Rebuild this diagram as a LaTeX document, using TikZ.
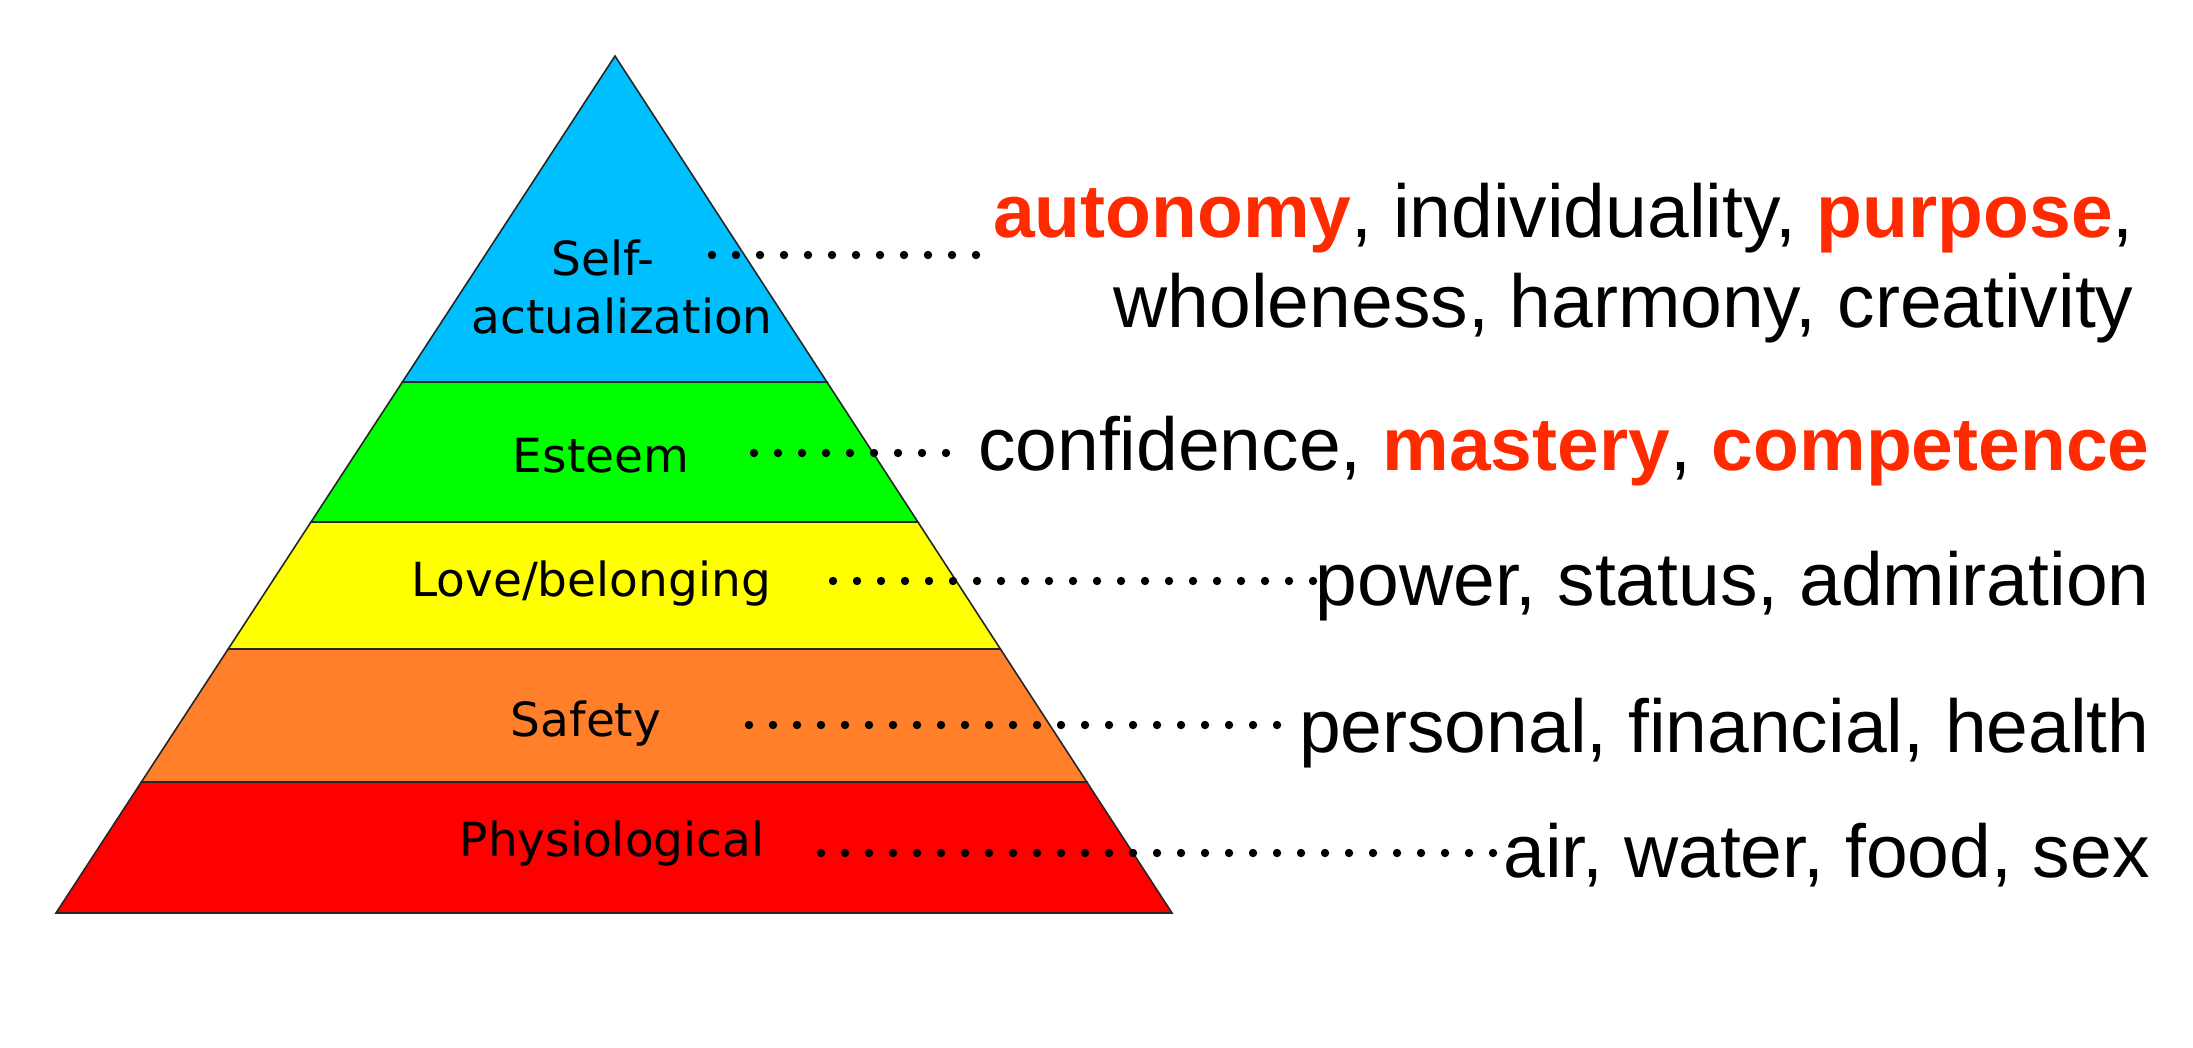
\documentclass[tikz,border=0pt]{standalone}
\usepackage{fontspec}
\setmainfont{Liberation Sans}
\newfontfamily\levelfont{DejaVu Sans}
\definecolor{selfblue}{RGB}{0,191,255}
\definecolor{esteemgreen}{RGB}{0,255,0}
\definecolor{loveyellow}{RGB}{255,255,0}
\definecolor{safeorange}{RGB}{255,127,42}
\definecolor{physred}{RGB}{255,0,0}
\definecolor{keyred}{RGB}{255,42,0}
\newcommand{\keyword}[1]{\textcolor{keyred}{\textbf{#1}}}
\begin{document}
\begin{tikzpicture}[
    x=0.5pt, y=-0.5pt,
    band/.style={draw=black!85, line width=0.8pt, fill=#1},
    level/.style={font=\levelfont\fontsize{23.5}{29}\selectfont, inner sep=0pt, anchor=base, align=center},
    needs/.style={font=\fontsize{37.5}{45}\selectfont, inner sep=0pt, anchor=base east, align=right},
    leader/.style={line width=4.2pt, line cap=round, dash pattern=on 0pt off 12pt}
]
    \useasboundingbox (0,0) rectangle (2193,1048);

    % pyramid bands
    \draw[band=selfblue] (615,56) -- (826.9,382) -- (402.4,382) -- cycle;
    \draw[band=esteemgreen] (402.4,382) -- (826.9,382) -- (917.9,522) -- (311,522) -- cycle;
    \draw[band=loveyellow] (311,522) -- (917.9,522) -- (1000.4,649) -- (228.2,649) -- cycle;
    \draw[band=safeorange] (228.2,649) -- (1000.4,649) -- (1086.8,782) -- (141.4,782) -- cycle;
    \draw[band=physred] (141.4,782) -- (1086.8,782) -- (1172,913) -- (56,913) -- cycle;

    \node[level] (self) at (622,333) {Self-\hspace*{.8em}\\actualization};
    \node[level] (esteem) at (601,472) {Esteem};
    \node[level] (love) at (591,596) {Love/belonging};
    \node[level] (safety) at (586,736) {Safety};
    \node[level] (phys) at (612,856) {Physiological};

    \node[needs] (selfneeds) at (2134,327) {\keyword{autonomy}, individuality, \keyword{purpose},\\wholeness, harmony, creativity};
    \node[needs] (esteemneeds) at (2150,470) {confidence, \keyword{mastery}, \keyword{competence}};
    \node[needs] (loveneeds) at (2150,605) {power, status, admiration};
    \node[needs] (safetyneeds) at (2150,752) {personal, financial, health};
    \node[needs] (physneeds) at (2150,877) {air, water, food, sex};

    % dotted leaders
    \coordinate (selfdots) at (712,255);
    \coordinate (esteemdots) at (754,453);
    \coordinate (lovedots) at (833,581);
    \coordinate (safetydots) at (749,725);
    \coordinate (physdots) at (821,853);
    \draw[leader] (selfdots) -- (selfdots -| 976,0);
    \draw[leader] (esteemdots) -- (esteemdots -| 946,0);
    \draw[leader] (lovedots) -- (lovedots -| loveneeds.west);
    \draw[leader] (safetydots) -- (safetydots -| safetyneeds.west);
    \draw[leader] (physdots) -- (physdots -| physneeds.west);
\end{tikzpicture}
\end{document}
